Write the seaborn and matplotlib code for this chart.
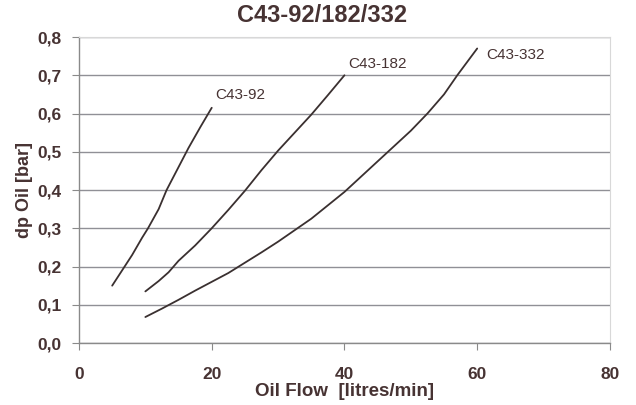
import numpy as np
import pandas as pd
import matplotlib
matplotlib.use("Agg")
import matplotlib.pyplot as plt
import seaborn as sns

# Data
flow_92 = [5, 6.5, 8, 9.5, 10.4, 12, 13.2, 15, 16.5, 18.3, 20]
dp_92 = [0.15, 0.19, 0.23, 0.275, 0.30, 0.35, 0.40, 0.46, 0.51, 0.565, 0.615]

flow_182 = [10, 12, 13.5, 15, 17.5, 20, 22.5, 25, 27.5, 30, 32.5, 35, 37.5, 40]
dp_182 = [0.135, 0.162, 0.185, 0.215, 0.255, 0.30, 0.348, 0.398, 0.452, 0.503, 0.55, 0.597, 0.648, 0.70]

flow_332 = [10, 12.5, 15, 17.5, 20, 22.5, 25, 27.5, 30, 32.5, 35, 37.5, 40, 42.5,
            45, 47.5, 50, 52.5, 55, 57, 58.5, 60]
dp_332 = [0.068, 0.09, 0.113, 0.137, 0.16, 0.183, 0.21, 0.237, 0.265, 0.295, 0.325, 0.36,
          0.395, 0.435, 0.475, 0.515, 0.555, 0.60, 0.65, 0.70, 0.735, 0.77]

series_names = ["C43-92", "C43-182", "C43-332"]
label_pos_x = [20.5, 40.5, 61.4]
label_pos_y = [0.648, 0.73, 0.753]

x_ticks = [0, 20, 40, 60, 80]
y_ticks = [0.0, 0.1, 0.2, 0.3, 0.4, 0.5, 0.6, 0.7, 0.8]
y_tick_labels = ["0,0", "0,1", "0,2", "0,3", "0,4", "0,5", "0,6", "0,7", "0,8"]

df = pd.concat([
    pd.DataFrame({"flow": flow_92, "dp": dp_92, "series": series_names[0]}),
    pd.DataFrame({"flow": flow_182, "dp": dp_182, "series": series_names[1]}),
    pd.DataFrame({"flow": flow_332, "dp": dp_332, "series": series_names[2]}),
])

sns.set_style("white")
plt.rcParams["font.family"] = ["Liberation Sans", "DejaVu Sans"]

text_col = "#473333"
line_col = "#3a3030"
grid_col = "#909096"

fig = plt.figure(figsize=(6.36, 4.05), dpi=100)
ax = fig.add_axes([0.1242, 0.153, 0.8348, 0.7556])

sns.lineplot(data=df, x="flow", y="dp", hue="series", units="series",
             estimator=None, sort=False,
             palette=[line_col] * 3, linewidth=1.3, legend=False, ax=ax)

ax.set_xlim(0, 80)
ax.set_ylim(0, 0.8)
ax.set_xticks(x_ticks)
ax.set_xticklabels([str(t) for t in x_ticks])
ax.set_yticks(y_ticks)
ax.set_yticklabels(y_tick_labels)

ax.yaxis.grid(True, color=grid_col, linewidth=1.0)
ax.xaxis.grid(False)
ax.set_axisbelow(True)

for side in ["top", "right"]:
    ax.spines[side].set_color("#d8d8d8")
    ax.spines[side].set_linewidth(0.8)
for side in ["left", "bottom"]:
    ax.spines[side].set_color("#8a8a8a")
    ax.spines[side].set_linewidth(1.0)

ax.tick_params(axis="x", which="both", bottom=True, length=5, width=0.8,
               color="#8a8a8a", labelsize=12.5, labelcolor=text_col, pad=12)
ax.tick_params(axis="y", which="both", left=True, length=5, width=0.8,
               color="#8a8a8a", labelsize=12.5, labelcolor=text_col, pad=7.5)
for lbl in ax.get_xticklabels() + ax.get_yticklabels():
    lbl.set_fontweight("bold")

for name, lx, ly in zip(series_names, label_pos_x, label_pos_y):
    ax.text(lx, ly, name, fontsize=11, color=text_col, ha="left", va="center")

ax.set_xlabel("Oil Flow  [litres/min]", fontsize=13.5, fontweight="bold",
              color=text_col, labelpad=1)
ax.set_ylabel("dp Oil [bar]", fontsize=13, fontweight="bold",
              color=text_col, labelpad=3)
fig.suptitle("C43-92/182/332", x=0.506, y=0.99, fontsize=17, fontweight="bold",
             color=text_col)

fig.savefig("out.png", dpi=100)
